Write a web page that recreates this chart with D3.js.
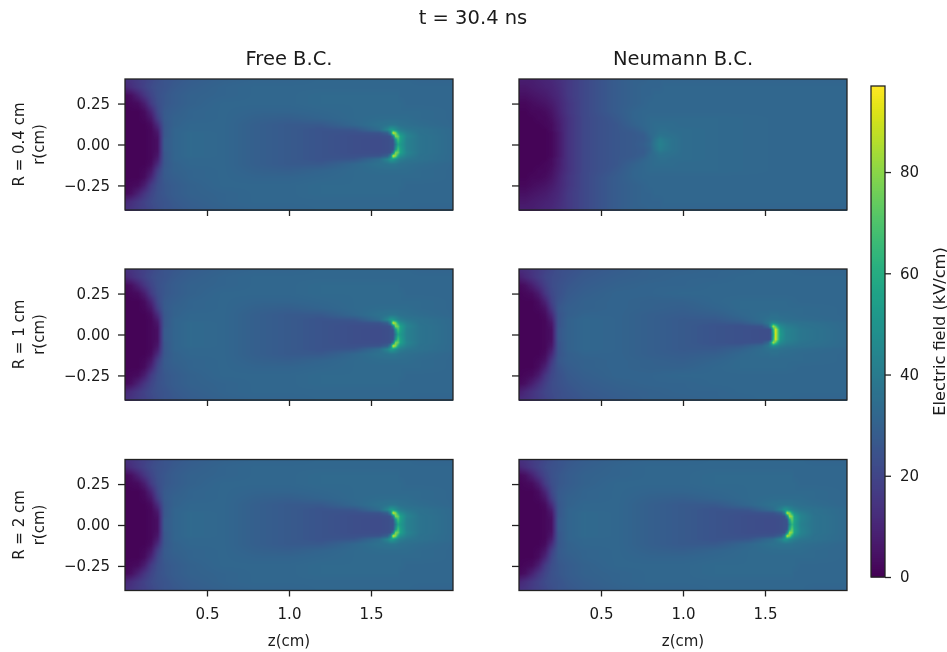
<!DOCTYPE html>
<html>
<head>
<meta charset="utf-8">
<script src="https://cdn.jsdelivr.net/npm/d3@7"></script>
<style>
body { margin: 0; background: white; }
.container { position: relative; width: 947px; height: 652px; overflow: hidden; }
canvas, svg { position: absolute; left: 0; top: 0; }
canvas { filter: blur(0.6px); }
text { font-family: "DejaVu Sans", sans-serif; fill: #1a1a1a; }
</style>
</head>
<body>
<div class="container"></div>
<script>
// E field, kV/cm. Rows are r nodes (upper half, mirrored about r = 0), columns are z nodes
const r_nodes = [0, .03, .05, .07, .09, .12, .16, .2, .25, .3, .35, .4];

const z_free = [0, .04, .08, .12, .16, .2, .24, .3, .4, .6, .8, 1.0, 1.2, 1.4, 1.55, 1.6, 1.62, 1.635, 1.65, 1.665, 1.68, 1.72, 1.8, 2.0];
const free_field = [
    [1, 1, 1, 1, 2, 4, 27, 31, 33, 32, 29, 27, 25, 23, 22, 23, 24, 24, 40, 58, 52, 42, 37, 33],
    [1, 1, 1, 1, 2, 4, 27, 31, 33, 32, 29, 27, 25, 23, 22, 23, 24, 25, 50, 68, 55, 42, 37, 33],
    [1, 1, 1, 1, 2, 5, 26, 31, 33, 32, 29, 27, 25, 23, 23, 24, 25, 38, 78, 75, 55, 43, 37, 33],
    [1, 1, 1, 1, 2, 6, 26, 31, 33, 32, 29, 27, 25, 24, 25, 29, 42, 92, 80, 58, 48, 41, 36, 33],
    [1, 1, 1, 1, 2, 8, 26, 31, 32, 32, 29, 27, 25, 26, 34, 44, 52, 52, 48, 44, 41, 38, 36, 33],
    [1, 1, 1, 1, 3, 12, 26, 30, 32, 32, 29, 27, 27, 32, 36, 37, 38, 38, 38, 37, 36, 35, 34, 32],
    [1, 1, 1, 2, 6, 18, 27, 30, 31, 32, 30, 29, 31, 33, 34, 34, 34, 34, 34, 34, 34, 34, 33, 32],
    [1, 1, 1, 3, 10, 21, 27, 29, 31, 32, 31, 31, 32, 33, 33, 33, 33, 33, 33, 33, 33, 33, 33, 32],
    [1, 2, 3, 8, 17, 23, 26, 28, 30, 32, 32, 32, 33, 33, 33, 33, 33, 33, 33, 33, 33, 32, 32, 32],
    [2, 4, 9, 15, 20, 24, 26, 28, 30, 31, 32, 32, 33, 33, 33, 33, 33, 33, 33, 33, 32, 32, 32, 32],
    [10, 13, 16, 19, 22, 24, 25, 27, 29, 31, 32, 32, 32, 32, 32, 32, 32, 32, 32, 32, 32, 32, 32, 32],
    [14, 15, 17, 19, 21, 23, 25, 26, 28, 30, 31, 31, 32, 32, 32, 32, 32, 32, 32, 32, 32, 32, 31, 31]
];

const neumann_large_field = [
    [1, 1, 1, 1, 2, 4, 27, 31, 33, 32, 29, 27, 25, 23, 22, 23, 24, 24, 46, 64, 54, 42, 37, 33],
    [1, 1, 1, 1, 2, 4, 27, 31, 33, 32, 29, 27, 25, 23, 22, 23, 24, 26, 58, 74, 56, 43, 37, 33],
    [1, 1, 1, 1, 2, 5, 26, 31, 33, 32, 29, 27, 25, 23, 23, 24, 25, 42, 84, 78, 55, 43, 37, 33],
    [1, 1, 1, 1, 2, 6, 26, 31, 33, 32, 29, 27, 25, 24, 25, 29, 42, 90, 78, 58, 48, 41, 36, 33],
    [1, 1, 1, 1, 2, 8, 26, 31, 32, 32, 29, 27, 25, 26, 34, 43, 50, 50, 46, 43, 41, 38, 36, 33],
    [1, 1, 1, 1, 3, 12, 26, 30, 32, 32, 29, 27, 27, 32, 36, 37, 37, 37, 37, 37, 36, 35, 34, 32],
    [1, 1, 1, 2, 6, 18, 27, 30, 31, 32, 30, 29, 31, 33, 34, 34, 34, 34, 34, 34, 34, 34, 33, 32],
    [1, 1, 1, 3, 10, 21, 27, 29, 31, 32, 31, 31, 32, 33, 33, 33, 33, 33, 33, 33, 33, 33, 33, 32],
    [1, 2, 3, 8, 17, 23, 26, 28, 30, 32, 32, 32, 33, 33, 33, 33, 33, 33, 33, 33, 33, 32, 32, 32],
    [2, 4, 9, 15, 20, 24, 26, 28, 30, 31, 32, 32, 33, 33, 33, 33, 33, 33, 33, 33, 32, 32, 32, 32],
    [10, 13, 16, 19, 22, 24, 25, 27, 29, 31, 32, 32, 32, 32, 32, 32, 32, 32, 32, 32, 32, 32, 32, 32],
    [14, 15, 17, 19, 21, 23, 25, 26, 28, 30, 31, 31, 32, 32, 32, 32, 32, 32, 32, 32, 32, 32, 31, 31]
];

const z_neumann_small = [0, .04, .08, .12, .16, .2, .24, .3, .4, .5, .6, .7, .76, .8, .83, .86, .89, .93, 1.0, 1.2, 1.6, 2.0];
const neumann_small_field = [
    [1, 1, 1, 1, 1, 2, 6, 14, 21, 24, 26, 27, 29, 32, 38, 42, 40, 37, 34, 33, 32, 32],
    [1, 1, 1, 1, 1, 2, 6, 14, 21, 24, 26, 27, 28, 31, 37, 41, 39, 37, 34, 33, 32, 32],
    [1, 1, 1, 1, 1, 2, 6, 14, 21, 24, 26, 27, 28, 32, 35, 38, 37, 36, 34, 33, 32, 32],
    [1, 1, 1, 1, 1, 2, 6, 14, 21, 24, 26, 27, 29, 33, 34, 36, 36, 35, 34, 33, 32, 32],
    [1, 1, 1, 1, 1, 3, 7, 14, 21, 24, 26, 28, 31, 33, 34, 35, 35, 34, 34, 33, 32, 32],
    [1, 1, 1, 1, 2, 3, 7, 14, 21, 24, 26, 30, 32, 33, 34, 34, 34, 34, 33, 33, 32, 32],
    [1, 1, 1, 2, 2, 4, 8, 14, 21, 24, 27, 31, 32, 33, 33, 33, 33, 33, 33, 33, 32, 32],
    [1, 1, 2, 2, 3, 5, 9, 15, 21, 25, 28, 31, 32, 32, 32, 32, 32, 32, 32, 32, 32, 32],
    [2, 2, 3, 4, 5, 7, 10, 15, 21, 25, 28, 30, 31, 32, 32, 32, 32, 32, 32, 32, 32, 32],
    [4, 4, 5, 6, 7, 9, 11, 16, 21, 25, 28, 30, 31, 31, 32, 32, 32, 32, 32, 32, 32, 32],
    [6, 6, 7, 8, 9, 10, 12, 16, 21, 25, 28, 30, 31, 31, 31, 31, 32, 32, 32, 32, 32, 32],
    [8, 8, 8, 9, 10, 11, 13, 16, 21, 25, 28, 30, 30, 31, 31, 31, 31, 31, 31, 31, 31, 31]
];

const z_neumann_mid = [0, .04, .08, .12, .16, .2, .24, .3, .4, .6, .8, 1.0, 1.2, 1.35, 1.48, 1.52, 1.535, 1.55, 1.565, 1.58, 1.595, 1.63, 1.72, 2.0];
const neumann_mid_field = [
    [1, 1, 1, 1, 2, 4, 26, 30, 32, 31, 29, 27, 25, 24, 23, 23, 24, 55, 92, 70, 52, 43, 38, 33],
    [1, 1, 1, 1, 2, 4, 26, 30, 32, 31, 29, 27, 25, 24, 23, 23, 24, 60, 92, 70, 50, 43, 38, 33],
    [1, 1, 1, 1, 2, 5, 25, 30, 32, 31, 29, 27, 25, 24, 25, 32, 48, 85, 70, 55, 46, 41, 37, 33],
    [1, 1, 1, 1, 2, 6, 25, 30, 32, 31, 29, 27, 26, 27, 32, 38, 42, 46, 44, 42, 40, 38, 36, 33],
    [1, 1, 1, 1, 2, 8, 25, 30, 32, 31, 29, 27, 27, 30, 34, 36, 37, 37, 37, 37, 36, 35, 34, 32],
    [1, 1, 1, 1, 3, 11, 25, 29, 31, 31, 29, 28, 29, 32, 34, 34, 35, 35, 35, 35, 34, 34, 33, 32],
    [1, 1, 1, 2, 5, 16, 26, 29, 30, 31, 30, 29, 31, 33, 33, 33, 33, 33, 33, 33, 33, 33, 33, 32],
    [1, 1, 1, 3, 9, 19, 25, 28, 30, 31, 30, 30, 32, 33, 33, 33, 33, 33, 33, 33, 33, 33, 32, 32],
    [1, 2, 3, 7, 15, 21, 24, 27, 29, 31, 31, 32, 32, 32, 32, 32, 32, 32, 32, 32, 32, 32, 32, 32],
    [2, 4, 8, 13, 18, 22, 24, 26, 28, 30, 31, 31, 32, 32, 32, 32, 32, 32, 32, 32, 32, 32, 32, 32],
    [8, 11, 14, 17, 20, 22, 23, 25, 27, 29, 30, 31, 31, 32, 32, 32, 32, 32, 32, 32, 32, 32, 32, 32],
    [12, 13, 15, 17, 19, 21, 23, 24, 26, 28, 30, 30, 31, 31, 32, 32, 32, 32, 32, 32, 32, 32, 31, 31]
];

const row_labels = ["R = 0.4 cm", "R = 1 cm", "R = 2 cm"];
const col_labels = ["Free B.C.", "Neumann B.C."];
const z_ticks = [0.5, 1.0, 1.5];
const r_ticks = [-0.25, 0, 0.25];
const field_ticks = [0, 20, 40, 60, 80];
const field_max = 97;

const panels = [
    {row: 0, col: 0, z: z_free, field: free_field},
    {row: 1, col: 0, z: z_free, field: free_field},
    {row: 2, col: 0, z: z_free, field: free_field},
    {row: 0, col: 1, z: z_neumann_small, field: neumann_small_field},
    {row: 1, col: 1, z: z_neumann_mid, field: neumann_mid_field},
    {row: 2, col: 1, z: z_free, field: neumann_large_field}
];

const width = 947, height = 652;
const panel_w = 328, panel_h = 131;
const col_x = [125, 519];
const row_y = [79, 269, 459.5];

const color = d3.scaleSequential(d3.interpolateViridis).domain([0, field_max]);
const x_scale = d3.scaleLinear().domain([0, 2]).range([0, panel_w]);
const y_scale = d3.scaleLinear().domain([-0.4, 0.4]).range([panel_h, 0]);

const container = d3.select(".container");
const canvas = container.append("canvas").attr("width", width).attr("height", height);
const ctx = canvas.node().getContext("2d");
const svg = container.append("svg").attr("width", width).attr("height", height);

// bilinear lookup between the nodes, same as imshow with interpolation on
function lookup(p, z, r) {
    const a = Math.abs(r);
    const i = Math.min(d3.bisectRight(p.z, z), p.z.length - 1);
    const j = Math.min(d3.bisectRight(r_nodes, a), r_nodes.length - 1);
    const tz = (z - p.z[i - 1]) / (p.z[i] - p.z[i - 1]);
    const tr = (a - r_nodes[j - 1]) / (r_nodes[j] - r_nodes[j - 1]);
    const top = d3.interpolateNumber(p.field[j - 1][i - 1], p.field[j - 1][i])(tz);
    const bot = d3.interpolateNumber(p.field[j][i - 1], p.field[j][i])(tz);
    return d3.interpolateNumber(top, bot)(tr);
}

panels.forEach(p => {
    const x0 = col_x[p.col], y0 = row_y[p.row];
    for (let px = 0; px < panel_w; px++) {
        for (let py = 0; py < panel_h + 1; py++) {
            ctx.fillStyle = color(lookup(p, x_scale.invert(px + 0.5), y_scale.invert(py + 0.5)));
            ctx.fillRect(x0 + px, Math.floor(y0) + py, 1, 1);
        }
    }

    const group = svg.append("g").attr("transform", `translate(${x0},${y0})`);

    const x_axis = d3.axisBottom(x_scale).tickValues(z_ticks).tickSizeOuter(0).tickSize(6).tickPadding(12)
        .tickFormat(p.row === 2 ? d3.format(".1f") : "");
    group.append("g")
        .attr("class", "axis")
        .attr("transform", `translate(0,${panel_h})`)
        .call(x_axis);

    const y_axis = d3.axisLeft(y_scale).tickValues(r_ticks).tickSizeOuter(0).tickSize(7).tickPadding(8)
        .tickFormat(p.col === 0 ? (d => d3.format(".2f")(d).replace("-", "\u2212")) : "");
    group.append("g")
        .attr("class", "axis")
        .call(y_axis);

    group.append("rect")
        .attr("width", panel_w)
        .attr("height", panel_h)
        .attr("fill", "none")
        .attr("stroke", "#222")
        .attr("stroke-width", 1.3);

    if (p.row === 2) {
        group.append("text")
            .attr("x", panel_w / 2)
            .attr("y", panel_h + 55)
            .attr("text-anchor", "middle")
            .attr("font-size", 15)
            .text("z(cm)");
    }
    if (p.row === 0) {
        group.append("text")
            .attr("x", panel_w / 2)
            .attr("y", -14)
            .attr("text-anchor", "middle")
            .attr("font-size", 19.5)
            .text(col_labels[p.col]);
    }
    if (p.col === 0) {
        const ylab = group.append("text")
            .attr("transform", `translate(-89,${panel_h / 2}) rotate(-90)`)
            .attr("text-anchor", "middle")
            .attr("font-size", 15);
        ylab.append("tspan").attr("x", 0).attr("y", -12).text(row_labels[p.row]);
        ylab.append("tspan").attr("x", 0).attr("y", 8).text("r(cm)");
    }
});

svg.selectAll(".axis .domain").remove();
svg.selectAll(".axis line").attr("stroke", "#222").attr("stroke-width", 1.3);
svg.selectAll(".axis text").attr("font-size", 15).style("font-family", '"DejaVu Sans", sans-serif').attr("fill", "#1a1a1a");

svg.append("text")
    .attr("x", 473)
    .attr("y", 24)
    .attr("text-anchor", "middle")
    .attr("font-size", 19.5)
    .text("t = 30.4 ns");

// colorbar
const bar = {x: 871, y: 86, w: 14, h: 491};
const bar_scale = d3.scaleLinear().domain([0, field_max]).range([bar.y + bar.h, bar.y]);
const bar_steps = d3.range(bar.y, bar.y + bar.h);
svg.append("g")
    .selectAll("rect")
    .data(bar_steps)
    .join("rect")
    .attr("x", bar.x)
    .attr("y", d => d)
    .attr("width", bar.w)
    .attr("height", 1.5)
    .attr("fill", d => color(bar_scale.invert(d + 0.5)));
svg.append("rect")
    .attr("x", bar.x)
    .attr("y", bar.y)
    .attr("width", bar.w)
    .attr("height", bar.h)
    .attr("fill", "none")
    .attr("stroke", "#222")
    .attr("stroke-width", 1.3);
const bar_axis = svg.append("g")
    .attr("transform", `translate(${bar.x + bar.w},0)`)
    .call(d3.axisRight(bar_scale).tickValues(field_ticks).tickSize(6).tickSizeOuter(0));
bar_axis.select(".domain").remove();
bar_axis.selectAll("line").attr("stroke", "#222").attr("stroke-width", 1.3);
bar_axis.selectAll("text").attr("font-size", 15).attr("x", 15).style("font-family", '"DejaVu Sans", sans-serif').attr("fill", "#1a1a1a");
svg.append("text")
    .attr("transform", `translate(945,${bar.y + bar.h / 2}) rotate(-90)`)
    .attr("text-anchor", "middle")
    .attr("font-size", 16.2)
    .text("Electric field (kV/cm)");
</script>
</body>
</html>
